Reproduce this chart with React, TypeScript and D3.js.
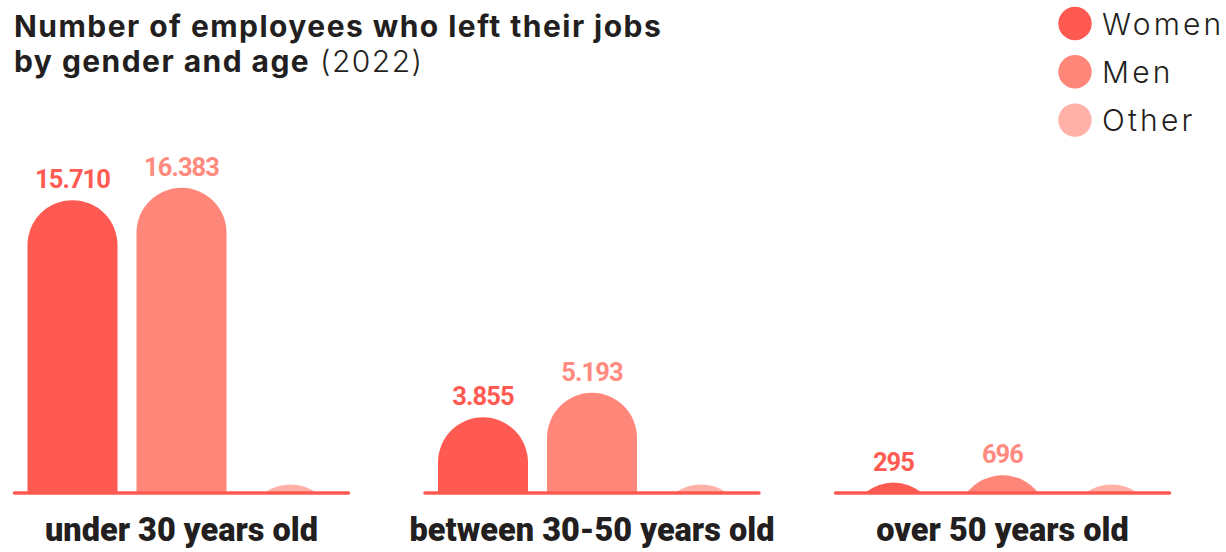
import React from 'react';
import * as d3 from 'd3';

const categories = ['under 30 years old', 'between 30-50 years old', 'over 50 years old'];
const seriesKeys = ['Women', 'Men', 'Other'];
const women = [15710, 3855, 295];
const men = [16383, 5193, 696];
const other = [190, 190, 190];
const showValue = [true, true, false];
const titleLine1 = 'Number of employees who left their jobs';
const titleLine2 = 'by gender and age';
const titleYear = '(2022)';
const barColors = ['#FF5A52', '#FF877A', '#FFB1A7'];
const labelColors = ['#FF5A52', '#FF8A7D', '#FFB1A7'];

const series = [women, men, other];

const W = 1226;
const H = 552;
const baseline = 492.5;

const locale = d3.formatLocale({ decimal: ',', thousands: '.', grouping: [3], currency: ['', ''] });
const fmt = locale.format(',d');

function barPath(x: number, w: number, h: number): string {
  const r = w / 2;
  const cx = x + r;
  if (h <= 0) return '';
  if (h >= r) {
    const p = d3.path();
    p.moveTo(x, baseline);
    p.lineTo(x, baseline - h + r);
    p.arc(cx, baseline - h + r, r, Math.PI, 0, false);
    p.lineTo(x + w, baseline);
    p.closePath();
    return p.toString();
  }
  const half = Math.sqrt(r * r - (r - h) * (r - h));
  const cy = baseline - h + r;
  const a0 = Math.atan2(baseline - cy, -half);
  const a1 = Math.atan2(baseline - cy, half);
  const p = d3.path();
  p.moveTo(cx - half, baseline);
  p.arc(cx, cy, r, a0, a1, false);
  p.closePath();
  return p.toString();
}

export default function App() {
  const x0 = d3.scaleBand<string>().domain(categories).range([13, 1171]).paddingInner(0.179).paddingOuter(0);
  const x1 = d3
    .scaleBand<string>()
    .domain(seriesKeys)
    .range([0, x0.bandwidth()])
    .paddingInner(0.1743)
    .paddingOuter(0.133);
  const maxV = d3.max(men) as number;
  const y = d3.scaleLinear().domain([0, maxV]).range([baseline - 4.5, baseline - 304.7]);

  return (
    <svg width={W} height={H} style={{ position: 'absolute', left: 0, top: 0, background: '#fff' }}>
      <text x={14} y={36.5} fontFamily="Inter" fontWeight={700} fontSize={30} letterSpacing={1.45} fill="#231F20">
        {titleLine1}
      </text>
      <text x={14} y={71.5} fontFamily="Inter" fontSize={30} letterSpacing={1.45} fill="#231F20">
        <tspan fontWeight={700}>{titleLine2}</tspan>
        <tspan fontWeight={300}> {titleYear}</tspan>
      </text>

      {seriesKeys.map((k, i) => (
        <g key={k}>
          <circle cx={1075} cy={23.5 + i * 48.3} r={16.7} fill={barColors[i]} />
          <text
            x={1102}
            y={23.5 + i * 48.3 + 11}
            fontFamily="Inter"
            fontWeight={300}
            fontSize={30}
            letterSpacing={3.2}
            fill="#231F20"
          >
            {k}
          </text>
        </g>
      ))}

      {categories.map((c, ci) => {
        const gx = x0(c) as number;
        return (
          <g key={c}>
            {seriesKeys.map((k, si) => {
              const v = series[si][ci];
              const bx = gx + (x1(k) as number);
              const bw = x1.bandwidth();
              const h = baseline - y(v);
              return (
                <g key={k}>
                  <path d={barPath(bx, bw, h)} fill={barColors[si]} />
                  {showValue[si] && (
                    <text
                      x={bx + bw / 2}
                      y={y(v) - 12}
                      textAnchor="middle"
                      fontFamily="Roboto"
                      fontWeight={700}
                      fontSize={25.5}
                      letterSpacing={-0.9}
                      fill={labelColors[si]}
                    >
                      {fmt(v)}
                    </text>
                  )}
                </g>
              );
            })}
            <line
              x1={gx + 1.5}
              x2={gx + x0.bandwidth() - 1.5}
              y1={baseline + 0.5}
              y2={baseline + 0.5}
              stroke="#FF5A52"
              strokeWidth={3.5}
              strokeLinecap="round"
            />
            <text
              x={gx + x0.bandwidth() / 2}
              y={540.5}
              textAnchor="middle"
              fontFamily="Roboto"
              fontWeight={900}
              fontSize={32.5}
              fill="#231F20"
            >
              {c}
            </text>
          </g>
        );
      })}
    </svg>
  );
}
